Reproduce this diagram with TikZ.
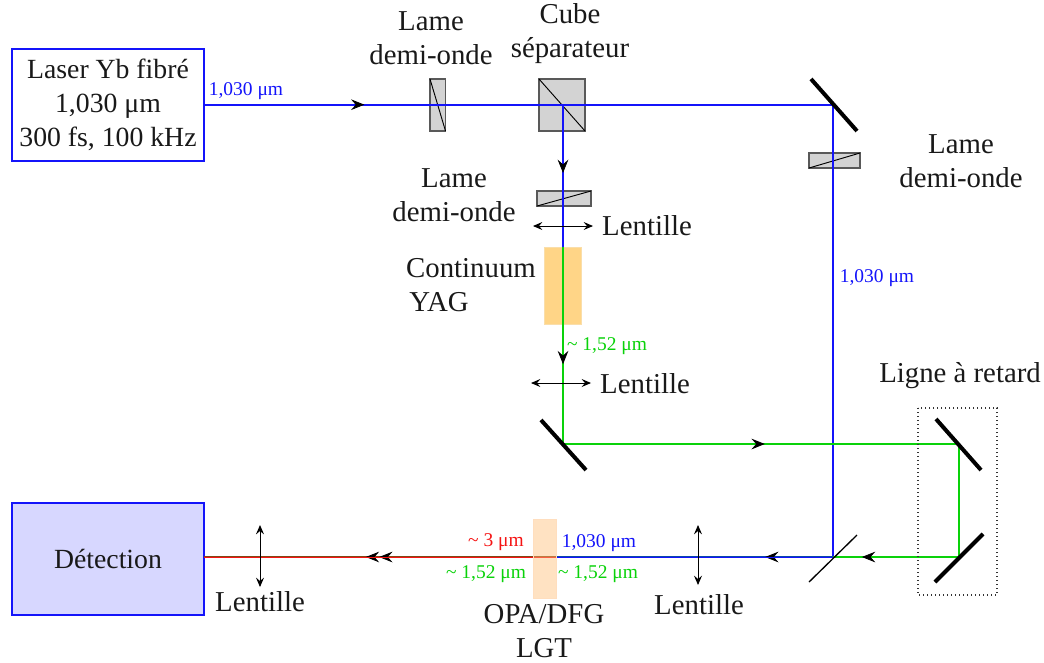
\documentclass[tikz,border=0pt]{standalone}
\usepackage{fontspec}
\setmainfont{Liberation Serif}
\usetikzlibrary{arrows.meta,decorations.markings}
\definecolor{beamblue}{RGB}{20,20,250}
\definecolor{beamgreen}{RGB}{10,210,10}
\definecolor{beamred}{RGB}{245,20,20}
\definecolor{beambrown}{RGB}{130,70,20}
\definecolor{beamnavy}{RGB}{10,70,170}
\definecolor{plate}{RGB}{211,211,211}
\tikzset{
  x=0.75pt,y=-0.75pt,
  txt/.style={font=\fontsize{21.6}{25.5}\selectfont,align=center,inner sep=0pt,text=black!90},
  boxtxt/.style={font=\fontsize{20.8}{25.5}\selectfont,align=center,text=black!90},
  small/.style={font=\fontsize{14.6}{17}\selectfont,inner sep=0pt},
  beam/.style={line width=1.2pt},
  under/.style={line width=1.5pt},
  over/.style={line width=0.6pt},
  tipped/.style={postaction={decorate},decoration={markings,mark=at position #1 with {\arrow[black,line width=0.6pt]{Stealth[length=10pt,width=8pt,inset=3.5pt]}}}},
  doubletip/.style={postaction={decorate},decoration={markings,mark=at position #1 with {\arrow[black,line width=0.6pt]{Stealth[length=10pt,width=8pt,inset=3.5pt]Stealth[length=10pt,width=8pt,inset=3.5pt,sep=-8pt]}}}},
  mirror/.style={line width=3pt,black},
  thinmirror/.style={line width=1pt,black},
  platebox/.style={draw=black!65,fill=plate,line width=0.9pt},
  diag/.style={line width=0.7pt,black},
  lens/.style={line width=0.7pt,black,{Stealth[length=7pt,width=6pt,inset=2.5pt]}-{Stealth[length=7pt,width=6pt,inset=2.5pt]}},
  source/.style={draw=beamblue,line width=1.2pt,inner sep=0pt}
}
\begin{document}
\begin{tikzpicture}
\useasboundingbox (0,0) rectangle (1044,662);
% boxes
\node[source,fill=white,minimum width=144pt,minimum height=84pt,anchor=center,boxtxt] (laser) at (108,105) {Laser Yb fibré\\1,030 μm\\300 fs, 100 kHz};
\node[source,fill={rgb,255:red,215;green,215;blue,255},minimum width=144pt,minimum height=84pt,boxtxt] (det) at (108,559) {Détection};
% named points
\coordinate (l1) at (204,104.7);
\coordinate (m1) at (833,104.7);
\coordinate (cube) at (563,104.7);
\coordinate (c1) at (563,247);
\coordinate (m2) at (563,444);
\coordinate (m3) at (958.7,444);
\coordinate (m4) at (958.7,557);
\coordinate (bs) at (833,557);
\coordinate (opaR) at (556,557);
\coordinate (opaL) at (204,557);
% crystal
\fill[fill={rgb,255:red,255;green,213;blue,135},draw={rgb,255:red,250;green,222;blue,170},line width=0.6pt] (544.5,247) rectangle (581.5,324);
% optics (below beams)
\draw[platebox] (430,79) rectangle (445.5,131);
\draw[diag] (430,79) -- (445.5,131);
\draw[platebox] (539,79) rectangle (585,131);
\draw[diag] (539,79) -- (585,131);
\draw[platebox] (537,191) rectangle (591,206);
\draw[diag] (537,206) -- (591,191);
\draw[platebox] (809,153) rectangle (860,168);
\draw[diag] (809,168) -- (860,153);
% beams
\draw[beam,beamblue,tipped=0.255] (l1) -- (m1);
\draw[beam,beamblue] (m1) -- (bs);
\draw[beam,beamblue,tipped=0.48] (cube) -- (c1);
\draw[beam,beamgreen,tipped=0.595] (c1) -- (m2);
\draw[beam,beamgreen,tipped=0.51] (m2) -- (m3);
\draw[beam,beamgreen] (m3) -- (m4);
\draw[beam,beamgreen,tipped=0.77] (m4) -- (bs);
\draw[under,beamnavy,tipped=0.245] (bs) -- (opaR);
\draw[over,beamblue] (bs) -- (opaR);
\draw[under,beambrown,doubletip=0.51] (opaR) -- (opaL);
\draw[over,beamred] (opaR) -- (opaL);
\fill[fill={rgb,255:red,255;green,190;blue,120},fill opacity=0.45] (533,519) rectangle (556,598);
\draw[line width=0.6pt,draw={rgb,255:red,255;green,222;blue,190}] (533,519) rectangle (556,598);
% mirrors
\draw[mirror] (811,79) -- (857,131);
\draw[mirror] (541,420) -- (586,470);
\draw[mirror] (936,419) -- (981,470);
\draw[mirror] (935,582) -- (983,534);
\draw[thinmirror] (809,582) -- (857,535);
% lenses
\draw[lens] (533,226) -- (593,226);
\draw[lens] (531,383) -- (591,383);
\draw[lens] (698,525) -- (698,585);
\draw[lens] (260,525) -- (260,587);
% delay line frame
\draw[black!80,line width=1pt,dotted] (918,408) rectangle (997,595);
% texts
\node[txt] (t1) at (431,38.5) {Lame\\demi-onde};
\node[txt] (t2) at (570,34) {Cube\\séparateur};
\node[txt] (t3) at (454,195.5) {Lame\\demi-onde};
\node[txt] (t4) at (647,226) {Lentille};
\node[txt] (t5) at (471,268) {Continuum};
\node[txt] (t6) at (439,302) {YAG};
\node[txt] (t7) at (961,161.5) {Lame\\demi-onde};
\node[txt] (t8) at (645,384) {Lentille};
\node[txt] (t9) at (960,376) {Ligne à retard};
\node[txt] (t10) at (260,602) {Lentille};
\node[txt] (t11) at (699,605) {Lentille};
\node[txt] (t12) at (544,631) {OPA/DFG\\LGT};
\node[small,text=beamblue] (s1) at (246,91) {1,030 μm};
\node[small,text=beamblue] (s2) at (877,278) {1,030 μm};
\node[small,text=beamgreen] (s3) at (607,346) {\textasciitilde{} 1,52 μm};
\node[small,text=beamred] (s4) at (496,542) {\textasciitilde{} 3 μm};
\node[small,text=beamblue] (s5) at (599,543) {1,030 μm};
\node[small,text=beamgreen] (s6) at (486,574) {\textasciitilde{} 1,52 μm};
\node[small,text=beamgreen] (s7) at (598,574) {\textasciitilde{} 1,52 μm};
\end{tikzpicture}
\end{document}
